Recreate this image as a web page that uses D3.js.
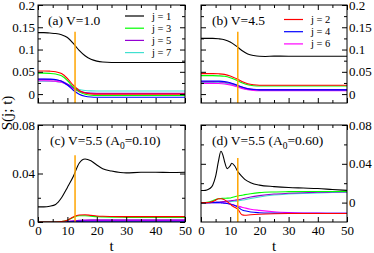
<!DOCTYPE html>
<html>
<head>
<meta charset="utf-8">
<script src="https://d3js.org/d3.v7.min.js"></script>
<style>
  body { margin: 0; background: #fff; }
  svg { display: block; }
  svg text { font-family: "Liberation Serif", "Times New Roman", serif; fill: #000; }
  .tick line { stroke: #000; stroke-width: 1px; }
  .tick text { font-size: 13px; }
  .frame { fill: none; stroke: #000; stroke-width: 1px; }
  .curve { fill: none; stroke-width: 1.1px; }
  .mark { stroke: #ffa500; stroke-width: 1.5px; }
</style>
</head>
<body>
<div id="container"></div>
<script>
// colours for j = 1..7
var colors = ["#000000", "#ff0000", "#00ff00", "#0000ff", "#9400d3", "#ff00ff", "#40e0d0"];

// time grids
var tA = [0,2,4,6,8,10,12,14,16,18,20,22,25,30,40,50];
var tC = [0,2,4,6,8,10,12,14,16,18,20,22,25,28,30,35,40,45,50];
var tD = [0,1,2,3,4,5,6,6.8,7.5,8,9,10,10.5,11.5,12.6,14,15,17,20,25,30,35,40,45,50];

// (a) V=1.0
var a1 = [0.138,0.138,0.137,0.136,0.133,0.127,0.114,0.098,0.086,0.078,0.074,0.072,0.071,0.071,0.071,0.071];
var a2 = [0.052,0.052,0.0515,0.050,0.046,0.035,0.020,0.008,0.0025,0.0005,0,0,0,0,0,0];
var a3 = [0.047,0.047,0.0465,0.045,0.041,0.0305,0.016,0.005,-0.0005,-0.0025,-0.003,-0.003,-0.003,-0.003,-0.003,-0.003];
var a4 = [0.034,0.034,0.0336,0.0324,0.0291,0.0205,0.0086,-0.0004,-0.005,-0.0066,-0.007,-0.007,-0.007,-0.007,-0.007,-0.007];
var a5 = [0.033,0.033,0.0327,0.0318,0.0293,0.0228,0.0138,0.007,0.0036,0.0023,0.002,0.002,0.002,0.002,0.002,0.002];
var a6 = [0.030,0.030,0.0297,0.0288,0.0265,0.0204,0.012,0.0056,0.0025,0.0013,0.001,0.001,0.001,0.001,0.001,0.001];
var a7 = [0.029,0.029,0.0288,0.0281,0.0264,0.0217,0.0154,0.0105,0.0081,0.0072,0.007,0.007,0.007,0.007,0.007,0.007];

// (b) V=4.5
var b1 = [0.125,0.125,0.125,0.1242,0.1222,0.117,0.1082,0.0978,0.0902,0.0866,0.0848,0.0845,0.0852,0.085,0.0848,0.085];
var b2 = [0.046,0.046,0.046,0.0455,0.0442,0.0408,0.0351,0.0283,0.0234,0.021,0.020,0.020,0.020,0.020,0.020,0.020];
var b3 = [0.0415,0.0415,0.0415,0.041,0.0399,0.0368,0.0316,0.0255,0.021,0.0189,0.018,0.018,0.018,0.018,0.018,0.018];
var b4 = [0.0295,0.0295,0.0295,0.0291,0.0281,0.0255,0.0211,0.0159,0.0121,0.0103,0.0095,0.0095,0.0095,0.0095,0.0095,0.0095];
var b5 = [0.028,0.028,0.028,0.0276,0.0267,0.0244,0.0204,0.0158,0.0123,0.0107,0.010,0.010,0.010,0.010,0.010,0.010];
var b6 = [0.024,0.024,0.024,0.0237,0.0228,0.0207,0.0171,0.0128,0.0096,0.0081,0.0075,0.0075,0.0075,0.0075,0.0075,0.0075];
var b7 = [0.026,0.026,0.026,0.0256,0.0247,0.0224,0.0184,0.0138,0.0103,0.0087,0.008,0.008,0.008,0.008,0.008,0.008];

// (c) V=5.5, A0=0.10
var c1 = [0.0125,0.0125,0.013,0.0145,0.020,0.0285,0.0375,0.0485,0.052,0.0505,0.047,0.044,0.042,0.0408,0.0405,0.041,0.041,0.0408,0.041];
var c2 = [0,0,0,0,0.0003,0.0015,0.0042,0.0058,0.006,0.0055,0.005,0.0047,0.0045,0.0044,0.0044,0.0044,0.0044,0.0044,0.0044];
var c3 = [0,0,0,0,0.0003,0.0014,0.0038,0.0052,0.0052,0.0048,0.0044,0.0042,0.004,0.0039,0.0038,0.0038,0.0038,0.0037,0.0037];
var c4 = [0,0,0,0,0,0.0001,0.0003,0.0005,0.0006,0.0006,0.0006,0.0006,0.0006,0.0006,0.0006,0.0006,0.0006,0.0006,0.0006];
var c5 = [0,0,0,0,0.0001,0.0004,0.001,0.0015,0.0017,0.0018,0.0018,0.0018,0.0018,0.0018,0.0018,0.0018,0.0018,0.0018,0.0018];
var c6 = [0,0,0,0,0.0001,0.0003,0.0007,0.001,0.0012,0.0012,0.0012,0.0012,0.0012,0.0012,0.0012,0.0012,0.0012,0.0012,0.0012];
var c7 = [0,0,0,0,0,0.0002,0.0005,0.0008,0.0009,0.0009,0.0009,0.0009,0.0009,0.0009,0.0009,0.0009,0.0009,0.0009,0.0009];

// (d) V=5.5, A0=0.60
var d1 = [0.0125,0.0125,0.013,0.0145,0.018,0.027,0.043,0.053,0.049,0.043,0.035,0.038,0.0405,0.038,0.032,0.027,0.024,0.0205,0.018,0.0165,0.0155,0.015,0.0145,0.0135,0.0126];
var d2 = [0,0,0,0.0003,0.001,0.0025,0.004,0.004,0.0035,0.003,0.001,-0.0015,-0.003,-0.0048,-0.0068,-0.0125,-0.013,-0.0125,-0.012,-0.0115,-0.0113,-0.0113,-0.0113,-0.0113,-0.0113];
var d3v = [0,0,0.0002,0.0008,0.002,0.0032,0.004,0.0043,0.0044,0.0045,0.0046,0.0048,0.0052,0.006,0.0068,0.0076,0.0082,0.0092,0.0103,0.011,0.0113,0.0115,0.0115,0.0115,0.0115];
var d4 = [0,0,0,0,0,0,0,-0.0002,-0.0004,-0.0006,-0.001,-0.0015,-0.002,-0.003,-0.0045,-0.0075,-0.0085,-0.0097,-0.0104,-0.0108,-0.011,-0.011,-0.011,-0.011,-0.011];
var d5 = [0,0,0,0,0.0002,0.0004,0.0006,0.0008,0.001,0.0012,0.0015,0.0018,0.002,0.0024,0.003,0.0038,0.0045,0.0058,0.0072,0.0088,0.0096,0.0102,0.0106,0.0109,0.0111];
var d6 = [0,0,0,0,0,0,0,0,-0.0001,-0.0003,-0.0008,-0.0015,-0.002,-0.0028,-0.0035,-0.0048,-0.0055,-0.0068,-0.008,-0.0095,-0.0103,-0.0107,-0.0109,-0.011,-0.011];
var d7 = [0,0,0,0,0.0001,0.0002,0.0003,0.0004,0.0005,0.0006,0.0008,0.001,0.0011,0.0014,0.0018,0.0025,0.003,0.0042,0.0058,0.0078,0.0088,0.0095,0.01,0.0105,0.0108];

// vertical marker at t ~ 12.6 and the value where it starts in each panel
var markT = 12.6;
var markTop = [0.14, 0.14, 0.055, 0.046];

var xTicks = [0,10,20,30,40,50];
var xMinor = [5,15,25,35,45];
var yTicksAB = [0,0.05,0.1,0.15,0.2];
var yMinorAB = [0.025,0.075,0.125,0.175];
var yTicksCD = [0,0.04,0.08];
var yMinorCD = [0.02,0.06];

var legendA = [1,3,5,7];
var legendB = [2,4,6];

var panels = [
  {x0:38, x1:185, y0:5, y1:103, ydom:[-0.02,0.2], t:tA, s:[a1,a2,a3,a4,a5,a6,a7], yt:yTicksAB, ym:yMinorAB, side:"left", xlab:false, title:"(a) V=1.0", tx:48, ty:25, leg:legendA, lx:125, ly:16},
  {x0:201, x1:347, y0:5, y1:103, ydom:[-0.02,0.2], t:tA, s:[b1,b2,b3,b4,b5,b6,b7], yt:yTicksAB, ym:yMinorAB, side:"right", xlab:false, title:"(b) V=4.5", tx:212, ty:25, leg:legendB, lx:284, ly:19.5},
  {x0:38, x1:185, y0:125, y1:222, ydom:[0,0.08], t:tC, s:[c1,c2,c3,c4,c5,c6,c7], yt:yTicksCD, ym:yMinorCD, side:"left", xlab:true, title:"(c) V=5.5 (A", sub:"=0.10)", tx:50, ty:145},
  {x0:201, x1:347, y0:125, y1:222, ydom:[-0.02,0.08], t:tD, s:[d1,d2,d3v,d4,d5,d6,d7], yt:yTicksCD, ym:yMinorCD, side:"right", xlab:true, title:"(d) V=5.5 (A", sub:"=0.60)", tx:212, ty:145}
];

var svg = d3.select("#container").append("svg")
  .attr("width", 374).attr("height", 253);

function fmt(d){ return d === 0 ? "0" : String(+d.toFixed(3)); }

panels.forEach(function(p, i){
  var x = d3.scaleLinear().domain([0,50]).range([p.x0, p.x1]);
  var y = d3.scaleLinear().domain(p.ydom).range([p.y1, p.y0]);
  var g = svg.append("g");

  svg.append("clipPath").attr("id", "clip" + i)
    .append("rect").attr("x", p.x0).attr("y", p.y0)
    .attr("width", p.x1 - p.x0).attr("height", p.y1 - p.y0);

  // curves
  var line = d3.line()
    .x(function(d){ return x(d[0]); })
    .y(function(d){ return y(d[1]); })
    .curve(d3.curveMonotoneX);
  var order = [6,5,4,3,2,1,0];
  order.forEach(function(k){
    var pts = p.t.map(function(tt, n){ return [tt, p.s[k][n]]; });
    g.append("path").attr("class", "curve")
      .attr("clip-path", "url(#clip" + i + ")")
      .attr("d", line(pts))
      .attr("stroke", colors[k]);
  });

  // orange marker
  g.append("line").attr("class", "mark")
    .attr("x1", x(markT)).attr("x2", x(markT))
    .attr("y1", y(markTop[i])).attr("y2", p.y1);

  // axes: ticks inward on all sides
  function addAxis(axis, tx, ty){
    var a = g.append("g").attr("transform", "translate(" + tx + "," + ty + ")").call(axis);
    a.attr("font-family", null).attr("font-size", null);
    a.select(".domain").remove();
    return a;
  }
  addAxis(d3.axisBottom(x).tickValues(xTicks).tickSize(-5).tickPadding(4)
    .tickFormat(p.xlab ? fmt : ""), 0, p.y1);
  addAxis(d3.axisBottom(x).tickValues(xMinor).tickSize(-3).tickFormat(""), 0, p.y1);
  addAxis(d3.axisTop(x).tickValues(xTicks).tickSize(-5).tickFormat(""), 0, p.y0);
  addAxis(d3.axisTop(x).tickValues(xMinor).tickSize(-3).tickFormat(""), 0, p.y0);

  addAxis(d3.axisLeft(y).tickValues(p.yt).tickSize(-5).tickPadding(3)
    .tickFormat(p.side == "left" ? fmt : ""), p.x0, 0);
  addAxis(d3.axisLeft(y).tickValues(p.ym).tickSize(-3).tickFormat(""), p.x0, 0);
  addAxis(d3.axisRight(y).tickValues(p.yt).tickSize(-5).tickPadding(2)
    .tickFormat(p.side == "right" ? fmt : ""), p.x1, 0);
  addAxis(d3.axisRight(y).tickValues(p.ym).tickSize(-3).tickFormat(""), p.x1, 0);

  g.append("rect").attr("class", "frame")
    .attr("x", p.x0).attr("y", p.y0)
    .attr("width", p.x1 - p.x0).attr("height", p.y1 - p.y0);

  // panel title
  var t = g.append("text").attr("x", p.tx).attr("y", p.ty)
    .attr("font-size", 13.5).text(p.title);
  if(p.sub){
    t.append("tspan").attr("font-size", 9.5).attr("dy", 3.5).text("0");
    t.append("tspan").attr("dy", -3.5).text(p.sub);
  }

  // legend
  if(p.leg){
    p.leg.forEach(function(j, n){
      var yy = p.ly + n * 12.2;
      g.append("line").attr("x1", p.lx).attr("x2", p.lx + 19)
        .attr("y1", yy).attr("y2", yy)
        .attr("stroke", colors[j - 1]).attr("stroke-width", 1.2);
      g.append("text").attr("x", p.lx + 27).attr("y", yy + 3.5)
        .attr("font-size", 10.5).text("j = " + j);
    });
  }

  if(p.xlab){
    g.append("text").attr("x", (p.x0 + p.x1) / 2).attr("y", 251)
      .attr("text-anchor", "middle").attr("font-size", 15).text("t");
  }
});

svg.append("text")
  .attr("transform", "translate(12,113) rotate(-90)")
  .attr("text-anchor", "middle").attr("font-size", 15)
  .text("S(j; t)");
</script>
</body>
</html>
